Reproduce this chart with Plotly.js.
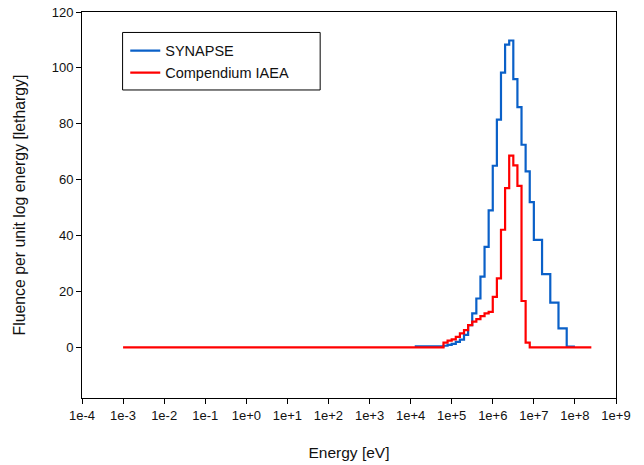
<!DOCTYPE html>
<html>
<head>
<meta charset="utf-8">
<script src="https://cdn.plot.ly/plotly-3.0.1.min.js"></script>
<style>html,body{margin:0;padding:0;background:#fff;}#chart{width:644px;height:465px;}</style>
</head>
<body>
<div id="chart"></div>
<script>
// Bin edges as log10(Energy / eV); last edge closes the last bin
const synapseLogEdges = [4.1, 4.8, 4.9, 5.0, 5.1, 5.2, 5.3, 5.4, 5.5, 5.6, 5.7, 5.8, 5.9, 6.0, 6.1, 6.2, 6.3, 6.4, 6.5, 6.6, 6.7, 6.8, 6.9, 7.0, 7.2, 7.4, 7.6, 7.8, 8.0];
const synapseValues   = [0.4, 0.6, 0.9, 1.3, 2.0, 2.8, 4.5, 8.0, 12.2, 17.5, 25.3, 36, 49, 65, 81.5, 98.3, 108.3, 109.8, 96, 86, 72.5, 63, 52, 38.5, 26.2, 16, 6.8, 0.3];

const iaeaLogEdges = [-3, 4.8, 4.9, 5.0, 5.1, 5.2, 5.3, 5.4, 5.5, 5.6, 5.7, 5.8, 5.9, 6.0, 6.1, 6.2, 6.3, 6.4, 6.5, 6.6, 6.7, 6.8, 6.9, 8.4];
const iaeaValues   = [0, 1.7, 2.4, 2.9, 3.8, 5.0, 6.2, 8.0, 9.2, 10.1, 11.2, 12.2, 12.7, 18.1, 24.7, 42.1, 57.0, 68.6, 65.1, 57.8, 16.6, 1.7, 0];

const xTickVals = [1e-4, 1e-3, 1e-2, 1e-1, 1e0, 1e1, 1e2, 1e3, 1e4, 1e5, 1e6, 1e7, 1e8, 1e9];
const xTickText = ["1e-4", "1e-3", "1e-2", "1e-1", "1e+0", "1e+1", "1e+2", "1e+3", "1e+4", "1e+5", "1e+6", "1e+7", "1e+8", "1e+9"];
const yTickVals = [0, 20, 40, 60, 80, 100, 120];

function stepY(vals) { return vals.concat([vals[vals.length - 1]]); }
function toEnergy(logs) { return logs.map(v => Math.pow(10, v)); }

const traces = [
  {
    x: toEnergy(synapseLogEdges), y: stepY(synapseValues),
    type: 'scatter', mode: 'lines', name: 'SYNAPSE',
    line: {shape: 'hv', color: '#0a60c8', width: 2.2}
  },
  {
    x: toEnergy(iaeaLogEdges), y: stepY(iaeaValues),
    type: 'scatter', mode: 'lines', name: 'Compendium IAEA',
    line: {shape: 'hv', color: '#ff0000', width: 2.2}
  }
];

const font = {family: 'Liberation Sans, Arial, sans-serif', size: 13, color: '#111'};

const layout = {
  width: 644, height: 465,
  margin: {l: 82, r: 28, t: 12, b: 67},
  paper_bgcolor: '#fff', plot_bgcolor: '#fff',
  font: font,
  showlegend: true,
  legend: {
    x: 0.081, y: 0.941, xanchor: 'left', yanchor: 'top',
    bgcolor: 'rgba(0,0,0,0)', borderwidth: 0,
    font: {family: font.family, size: 14.5, color: '#111'},
    tracegroupgap: 0
  },
  shapes: [{
    type: 'rect', xref: 'paper', yref: 'paper', layer: 'below',
    x0: 0.076, x1: 0.446, y0: 0.798, y1: 0.947,
    line: {color: '#000', width: 1}, fillcolor: '#fff'
  }],
  xaxis: {
    type: 'log', range: [-4, 9],
    tickmode: 'array', tickvals: xTickVals, ticktext: xTickText,
    ticks: 'outside', ticklen: 5, tickwidth: 1, tickcolor: '#000',
    showline: true, linecolor: '#000', linewidth: 1, mirror: true,
    showgrid: false, zeroline: false,
    tickfont: {family: font.family, size: 13, color: '#111'},
    title: {text: 'Energy [eV]', font: {family: font.family, size: 15.5, color: '#111'}, standoff: 25}
  },
  yaxis: {
    range: [-18.1, 120],
    tickmode: 'array', tickvals: yTickVals,
    ticks: 'outside', ticklen: 5, tickwidth: 1, tickcolor: '#000',
    showline: true, linecolor: '#000', linewidth: 1, mirror: true,
    showgrid: false, zeroline: false,
    tickfont: {family: font.family, size: 13, color: '#111'},
    title: {text: 'Fluence per unit log energy [lethargy]', font: {family: font.family, size: 15.8, color: '#111'}, standoff: 22}
  }
};

Plotly.newPlot('chart', traces, layout, {displayModeBar: false, staticPlot: true});
</script>
</body>
</html>
